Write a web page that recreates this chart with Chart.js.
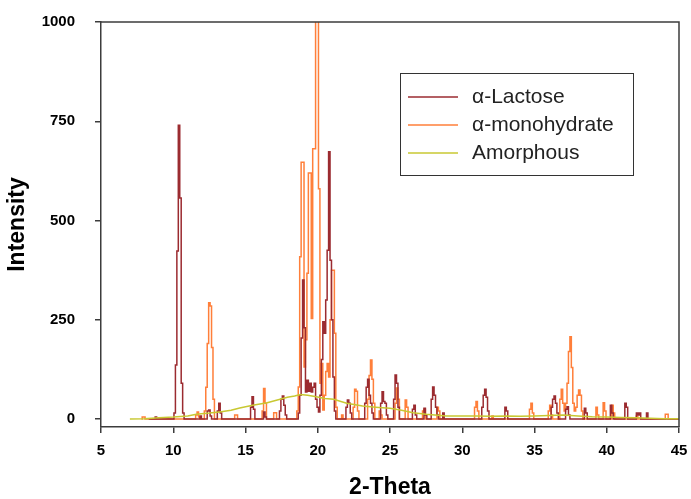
<!DOCTYPE html>
<html>
<head>
<meta charset="utf-8">
<script src="https://cdn.jsdelivr.net/npm/chart.js@4.4.1/dist/chart.umd.min.js"></script>
<style>
  html, body { margin: 0; padding: 0; background: #fff; }
  #wrap { width: 691px; height: 499px; }
</style>
</head>
<body>
<div id="wrap"><canvas id="xrd" width="691" height="499"></canvas></div>
<script>
// series names as in the legend
const seriesNames = ['α-Lactose', 'α-monohydrate', 'Amorphous'];
const seriesColors = ['#9b2b30', '#ff7f3a', '#c8c832'];

// axis ticks
const thetaTicks = [5, 10, 15, 20, 25, 30, 35, 40, 45];
const intensityTicks = [0, 250, 500, 750, 1000];

// [2-theta, intensity]
const lactosePeaks = [
  [8.3,0],[8.7,0],[8.8,5],[8.9,0],
  [10.0,0],[10.1,15],[10.2,136],[10.3,423],[10.4,740],[10.5,557],[10.6,90],[10.7,15],[10.8,0],
  [11.8,0],[11.9,8],[12.0,0],
  [12.3,0],[12.4,20],[12.5,23],[12.6,8],[12.7,0],
  [13.0,0],[13.1,20],[13.2,40],[13.3,15],[13.4,0],
  [15.3,0],[15.4,30],[15.5,56],[15.6,25],[15.7,0],
  [16.2,0],[16.3,18],[16.4,5],[16.5,0],
  [17.3,0],[17.4,20],[17.5,50],[17.6,58],[17.7,35],[17.8,10],[17.9,0],
  [18.6,0],[18.7,15],[18.8,60],[18.9,204],[19.0,350],[19.1,230],[19.2,68],[19.3,98],[19.4,70],
  [19.5,90],[19.6,68],[19.7,80],[19.8,90],[19.9,50],[20.0,30],[20.1,18],[20.2,60],[20.3,150],
  [20.4,245],[20.5,216],[20.6,300],[20.7,425],[20.8,673],[20.9,400],[21.0,250],[21.1,106],[21.2,20],[21.3,0],
  [21.9,0],[22.0,30],[22.1,48],[22.2,40],[22.3,15],[22.4,0],
  [23.2,0],[23.3,40],[23.4,80],[23.5,100],[23.6,60],[23.7,40],[23.8,15],[23.9,0],
  [24.3,0],[24.4,40],[24.5,69],[24.6,44],[24.7,40],[24.8,10],[24.9,0],
  [25.2,0],[25.3,50],[25.4,111],[25.5,90],[25.6,30],[25.7,0],
  [26.5,0],[26.6,25],[26.7,35],[26.8,10],[26.9,0],
  [27.3,0],[27.4,27],[27.5,10],[27.6,0],
  [27.8,0],[27.9,50],[28.0,81],[28.1,60],[28.2,30],[28.3,10],[28.4,0],
  [28.6,0],[28.7,15],[28.8,0],
  [31.3,0],[31.4,30],[31.5,60],[31.6,75],[31.7,55],[31.8,20],[31.9,0],
  [32.9,0],[33.0,30],[33.1,20],[33.2,0],
  [36.1,0],[36.2,30],[36.3,50],[36.4,58],[36.5,40],[36.6,15],[36.7,0],
  [37.1,0],[37.2,25],[37.3,31],[37.4,10],[37.5,0],
  [38.4,0],[38.5,27],[38.6,15],[38.7,0],
  [40.2,0],[40.3,35],[40.4,15],[40.5,0],
  [41.2,0],[41.3,40],[41.4,30],[41.5,0],
  [42.0,0],[42.1,15],[42.2,10],[42.3,15],[42.4,0],
  [42.7,0],[42.8,15],[42.9,0],
  [45.0,0]
];

const monohydratePeaks = [
  [7.8,0],[7.9,5],[8.0,5],[8.1,0],
  [11.5,0],[11.6,10],[11.7,18],[11.8,5],[11.9,0],
  [12.1,0],[12.2,20],[12.3,80],[12.4,190],[12.5,293],[12.6,285],[12.7,180],[12.8,50],[12.9,0],
  [14.2,0],[14.3,10],[14.4,10],[14.5,0],
  [16.1,0],[16.2,20],[16.3,77],[16.4,40],[16.5,0],
  [16.9,0],[17.0,16],[17.1,16],[17.2,0],
  [18.5,0],[18.6,20],[18.7,81],[18.8,409],[18.9,647],[19.0,647],[19.1,131],[19.2,200],[19.3,367],
  [19.4,620],[19.5,620],[19.6,253],[19.7,681],[19.8,681],[19.9,1050],[20.0,1050],[20.1,580],[20.2,90],
  [20.3,140],[20.4,23],[20.5,60],[20.6,120],[20.7,140],[20.8,106],[20.9,250],[21.0,375],[21.1,375],
  [21.2,216],[21.3,30],[21.4,0],
  [21.6,0],[21.7,10],[21.8,0],
  [22.4,0],[22.5,30],[22.6,75],[22.7,70],[22.8,20],[22.9,0],
  [23.4,0],[23.5,50],[23.6,110],[23.7,149],[23.8,100],[23.9,40],[24.0,0],
  [24.2,0],[24.3,20],[24.4,10],[24.5,0],
  [25.3,0],[25.4,40],[25.5,78],[25.6,50],[25.7,0],
  [26.0,0],[26.1,48],[26.2,30],[26.3,0],
  [27.2,0],[27.3,20],[27.4,25],[27.5,0],
  [28.2,0],[28.3,30],[28.4,20],[28.5,0],
  [30.8,0],[30.9,30],[31.0,44],[31.1,20],[31.2,0],
  [32.0,0],[32.1,8],[32.2,0],
  [34.6,0],[34.7,25],[34.8,40],[34.9,15],[35.0,0],
  [35.9,0],[36.0,20],[36.1,35],[36.2,10],[36.3,0],
  [36.7,0],[36.8,50],[36.9,75],[37.0,40],[37.1,20],[37.2,40],[37.3,90],[37.4,170],[37.5,207],
  [37.6,130],[37.7,40],[37.8,20],[37.9,30],[38.0,60],[38.1,73],[38.2,60],[38.3,20],[38.4,0],
  [39.2,0],[39.3,30],[39.4,10],[39.5,0],
  [39.7,0],[39.8,41],[39.9,20],[40.0,0],
  [40.3,0],[40.4,35],[40.5,15],[40.6,0],
  [42.0,0],[42.1,8],[42.2,0],
  [44.0,0],[44.1,12],[44.2,12],[44.3,0],
  [45.0,0]
];

const amorphousHalo = [
  [7.0,0],[8.0,1],[9.0,3],[10.0,5],[11.0,8],[11.6,12],[12.5,15],[13.2,18],[14.0,22],[14.6,28],
  [15.5,35],[16.5,41],[17.2,48],[17.9,55],[18.4,58],[18.8,62],[19.3,60],[19.9,56],[20.5,52],
  [21.1,50],[22.0,40],[23.1,33],[24.0,30],[25.0,27],[25.8,22],[26.6,16],[27.5,12],[28.9,8],
  [30.0,8],[31.0,8],[32.0,7],[33.0,8],[34.0,7],[35.0,8],[36.0,9],[37.0,10],[38.0,8],[39.0,6],
  [40.0,5],[41.0,4],[42.0,3],[43.0,2],[44.0,1],[45.0,1]
];

const axisColor = '#3c3c3c';
const fontFamily = '"Liberation Sans", Arial, sans-serif';

function toPoints(pairs) {
  return pairs.map(p => ({ x: p[0], y: p[1] }));
}

// top/right frame and the boxed legend inside the plot
const frameAndLegend = {
  id: 'frameAndLegend',
  afterDraw(chart) {
    const { ctx, chartArea: a } = chart;
    ctx.save();
    ctx.strokeStyle = axisColor;
    ctx.lineWidth = 1.5;
    ctx.beginPath();
    ctx.moveTo(a.left, a.top);
    ctx.lineTo(a.right, a.top);
    ctx.lineTo(a.right, a.bottom);
    ctx.stroke();

    // legend box
    const bx = 400.5, by = 73.5, bw = 233, bh = 102;
    ctx.fillStyle = '#fff';
    ctx.fillRect(bx, by, bw, bh);
    ctx.strokeStyle = '#333';
    ctx.lineWidth = 1;
    ctx.strokeRect(bx, by, bw, bh);

    ctx.font = '21px ' + fontFamily;
    ctx.textBaseline = 'middle';
    ctx.fillStyle = '#222';
    const rows = [97, 125, 153];
    chart.data.datasets.forEach((ds, i) => {
      ctx.strokeStyle = ds.borderColor;
      ctx.lineWidth = 1.5;
      ctx.beginPath();
      ctx.moveTo(408, rows[i]);
      ctx.lineTo(458, rows[i]);
      ctx.stroke();
      ctx.fillText(ds.label, 472, rows[i]);
    });
    ctx.restore();
  }
};

const ctx = document.getElementById('xrd').getContext('2d');
new Chart(ctx, {
  type: 'line',
  data: {
    datasets: [
      {
        label: seriesNames[0],
        data: toPoints(lactosePeaks),
        borderColor: seriesColors[0],
        borderWidth: 1.5,
        stepped: 'middle',
        pointRadius: 0,
        order: 1
      },
      {
        label: seriesNames[1],
        data: toPoints(monohydratePeaks),
        borderColor: seriesColors[1],
        borderWidth: 1.5,
        stepped: 'middle',
        pointRadius: 0,
        order: 2
      },
      {
        label: seriesNames[2],
        data: toPoints(amorphousHalo),
        borderColor: seriesColors[2],
        borderWidth: 1.5,
        pointRadius: 0,
        order: 0
      }
    ]
  },
  options: {
    responsive: false,
    animation: false,
    devicePixelRatio: 1,
    layout: { padding: { top: 22, right: 12, left: 0, bottom: 0 } },
    plugins: {
      legend: { display: false },
      tooltip: { enabled: false }
    },
    scales: {
      x: {
        type: 'linear',
        min: 5,
        max: 45,
        afterBuildTicks: s => { s.ticks = thetaTicks.map(v => ({ value: v })); },
        afterFit: s => { s.height = 72; s.paddingLeft = 0; s.paddingRight = 0; },
        grid: { drawOnChartArea: false, tickLength: 6, color: axisColor, lineWidth: 1.5 },
        border: { color: axisColor, width: 1.5 },
        ticks: {
          color: '#000',
          padding: 9,
          maxRotation: 0,
          autoSkip: false,
          callback: v => String(v),
          font: { family: fontFamily, size: 15, weight: 'bold' }
        },
        title: {
          display: true,
          text: '2-Theta',
          color: '#000',
          padding: { top: 0, bottom: 0 },
          font: { family: fontFamily, size: 23, weight: 'bold', lineHeight: 0.95 }
        }
      },
      y: {
        min: -20,
        max: 1000,
        afterBuildTicks: s => { s.ticks = intensityTicks.map(v => ({ value: v })); },
        afterFit: s => { s.width = 101; s.paddingTop = 0; s.paddingBottom = 0; },
        grid: { drawOnChartArea: false, tickLength: 6, color: axisColor, lineWidth: 1.5 },
        border: { color: axisColor, width: 1.5 },
        ticks: {
          color: '#000',
          padding: 20,
          callback: v => String(v),
          font: { family: fontFamily, size: 15, weight: 'bold' }
        },
        title: {
          display: true,
          text: 'Intensity',
          color: '#000',
          padding: { top: 5, bottom: 0 },
          font: { family: fontFamily, size: 23, weight: 'bold', lineHeight: 1.1 }
        }
      }
    }
  },
  plugins: [frameAndLegend]
});
</script>
</body>
</html>
